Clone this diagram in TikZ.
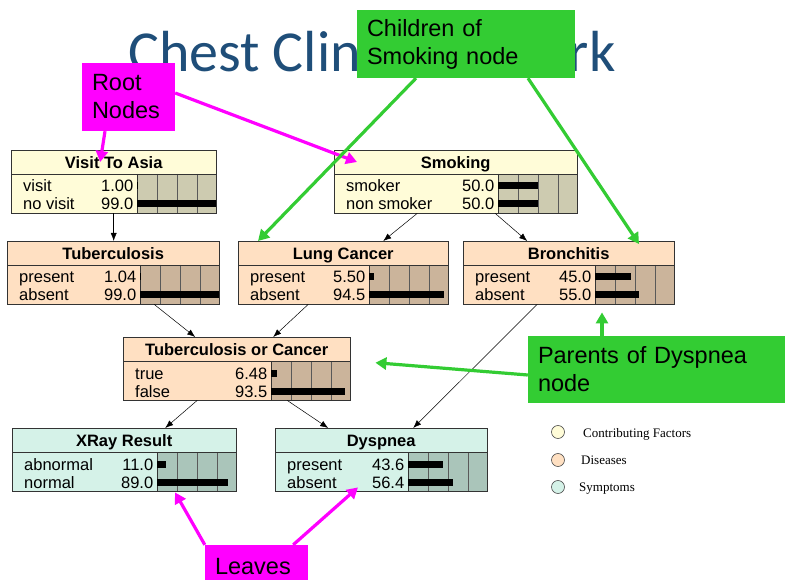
\documentclass[tikz,border=0pt]{standalone}
\usepackage{fontspec}
\setmainfont{Liberation Sans}
\newfontfamily\titlefont{Carlito}
\newfontfamily\legendfont{Liberation Serif}
\usetikzlibrary{arrows.meta,calc}

\definecolor{titleblue}{HTML}{1F4E79}
\definecolor{factorfill}{HTML}{FFFCD8}
\definecolor{factorbar}{HTML}{CDCBB0}
\definecolor{diseasefill}{HTML}{FFE0C2}
\definecolor{diseasebar}{HTML}{CBB49B}
\definecolor{symptomfill}{HTML}{D5F2E8}
\definecolor{symptombar}{HTML}{AAC5BA}
\definecolor{callmag}{HTML}{FF00FF}
\definecolor{callgrn}{HTML}{33CC33}

\tikzset{
  bnbox/.style={inner sep=0pt, minimum height=63pt, anchor=north west},
  bnline/.style={draw=black!80, line width=0.8pt},
  bncell/.style={draw=black!65, line width=0.6pt},
  bntitle/.style={font=\fontsize{16.5}{16.5}\selectfont\bfseries, inner sep=0pt},
  bntext/.style={font=\fontsize{16.5}{16.5}\selectfont, inner sep=0pt},
  bnlink/.style={-{Latex[length=8pt,width=6pt]}, line width=0.5pt},
  callout/.style={inner sep=0pt, align=left, font=\fontsize{23.5}{28}\selectfont},
  magbox/.style={callout, fill=callmag},
  grnbox/.style={callout, fill=callgrn},
  magarrow/.style={-{Triangle[length=11pt,width=12pt]}, line width=3.2pt, draw=callmag, fill=callmag},
  grnarrow/.style={-{Triangle[length=11pt,width=12pt]}, line width=3.2pt, draw=callgrn, fill=callgrn},
  legdot/.style={circle, draw=black!70, line width=0.6pt, minimum size=13pt, inner sep=0pt},
  legtext/.style={font=\legendfont\fontsize{13}{13}\selectfont, inner sep=0pt, anchor=base west}
}

% #1 name, #2 top left, #3 width, #4 title, #5 fill, #6 bar area colour
\newcommand{\bnnode}[6]{%
  \node[bnbox, fill=#5, minimum width=#3pt] (#1) at (#2) {};
  \fill[#6] ([xshift=-79pt, yshift=-24pt]#1.north east) rectangle (#1.south east);
  \foreach \k in {20,40,60}
    \draw[bncell] ([xshift=\k pt-79pt, yshift=-24pt]#1.north east) -- ([xshift=\k pt-79pt]#1.south east);
  \draw[bnline] ([xshift=-79pt, yshift=-24pt]#1.north east) -- ([xshift=-79pt]#1.south east);
  \draw[bnline] ([yshift=-24pt]#1.north west) -- ([yshift=-24pt]#1.north east);
  \node[bntitle, anchor=base] at ([yshift=-18.5pt]#1.north) {#4};
  \draw[bnline] (#1.north west) rectangle (#1.south east);
}
% #1 node, #2 row centre below top, #3 state, #4 value, #5 percent
\newcommand{\bnrow}[5]{%
  \node[bntext, anchor=base west] at ([xshift=12pt, yshift=-#2pt-6pt]#1.north west) {#3};
  \node[bntext, anchor=base east] at ([xshift=-83pt, yshift=-#2pt-6pt]#1.north east) {#4};
  \fill ([xshift=-79pt, yshift=-#2pt+3.5pt]#1.north east) rectangle ++(0.79*#5, 7);
}

\begin{document}
\begin{tikzpicture}[x=1pt,y=-1pt]
  \useasboundingbox (0,0) rectangle (785,580);
  \clip (0,0) rectangle (785,580);

  \node[anchor=base west, inner sep=0pt, text=titleblue, font=\titlefont\fontsize{58}{58}\selectfont] (title) at (128,72) {Chest Clinic Network};

  % network nodes
  \bnnode{visit}{11,150}{205}{Visit To Asia}{factorfill}{factorbar}
  \bnrow{visit}{36}{visit}{1.00}{1.00}
  \bnrow{visit}{54}{no visit}{99.0}{99.0}

  \bnnode{smoking}{334,150}{243}{Smoking}{factorfill}{factorbar}
  \bnrow{smoking}{36}{smoker}{50.0}{50.0}
  \bnrow{smoking}{54}{non smoker}{50.0}{50.0}

  \bnnode{tb}{7,241}{212}{Tuberculosis}{diseasefill}{diseasebar}
  \bnrow{tb}{36}{present}{1.04}{1.04}
  \bnrow{tb}{54}{absent}{99.0}{99.0}

  \bnnode{lung}{238,241}{210}{Lung Cancer}{diseasefill}{diseasebar}
  \bnrow{lung}{36}{present}{5.50}{5.50}
  \bnrow{lung}{54}{absent}{94.5}{94.5}

  \bnnode{bronch}{463,241}{211}{Bronchitis}{diseasefill}{diseasebar}
  \bnrow{bronch}{36}{present}{45.0}{45.0}
  \bnrow{bronch}{54}{absent}{55.0}{55.0}

  \bnnode{torc}{123,337}{227}{Tuberculosis or Cancer}{diseasefill}{diseasebar}
  \bnrow{torc}{36}{true}{6.48}{6.48}
  \bnrow{torc}{54}{false}{93.5}{93.5}

  \bnnode{xray}{12,428}{224}{XRay Result}{symptomfill}{symptombar}
  \bnrow{xray}{36}{abnormal}{11.0}{11.0}
  \bnrow{xray}{54}{normal}{89.0}{89.0}

  \bnnode{dysp}{275,428}{212}{Dyspnea}{symptomfill}{symptombar}
  \bnrow{dysp}{36}{present}{43.6}{43.6}
  \bnrow{dysp}{54}{absent}{56.4}{56.4}

  % links
  \draw[bnlink] (visit.south) -- (visit.south |- tb.north);
  \draw[bnlink] ([xshift=-38.5pt]smoking.south) -- ([xshift=40pt]lung.north);
  \draw[bnlink] ([xshift=39.5pt]smoking.south) -- ([xshift=-41.5pt]bronch.north);
  \draw[bnlink] ([xshift=41pt]tb.south) -- ([xshift=-41.5pt]torc.north);
  \draw[bnlink] ([xshift=-35pt]lung.south) -- ([xshift=36.5pt]torc.north);
  \draw[bnlink] ([xshift=-31.5pt]bronch.south) -- ([xshift=32pt]dysp.north);
  \draw[bnlink] ([xshift=-39.5pt]torc.south) -- ([xshift=41pt]xray.north);
  \draw[bnlink] ([xshift=50.5pt]torc.south) -- ([xshift=-53pt]dysp.north);

  % legend
  \node[legdot, fill=factorfill] (legfac) at (558,432) {};
  \node[legtext] (legfactxt) at (583,437) {Contributing Factors};
  \node[legdot, fill=diseasefill] (legdis) at (558,460) {};
  \node[legtext] (legdistxt) at (581,464) {Diseases};
  \node[legdot, fill=symptomfill] (legsym) at (558,487) {};
  \node[legtext] (legsymtxt) at (579,491) {Symptoms};

  % callouts
  \node[magbox, minimum width=93pt, minimum height=68pt, text width=73pt] (rootlbl) at (128.5,97) {Root\\Nodes};
  \node[grnbox, minimum width=218pt, minimum height=68pt, text width=198pt] (kidslbl) at (466,44) {Children of\\Smoking node};
  \node[grnbox, minimum width=257pt, minimum height=67pt, text width=237pt] (parlbl) at (656.5,369.5) {Parents of Dyspnea\\node};
  \node[magbox, minimum width=103pt, minimum height=43pt, text width=83pt] (leaveslbl) at (256.5,566.5) {Leaves};

  \draw[magarrow] ([xshift=-23.5pt]rootlbl.south) -- ([xshift=-13.5pt, yshift=-12pt]visit.north);
  \draw[magarrow] ([yshift=4pt]rootlbl.east) -- ([xshift=23pt, yshift=-12pt]smoking.north west);
  \draw[grnarrow] ([xshift=-50pt]kidslbl.south) -- ([xshift=20pt]lung.north west);
  \draw[grnarrow] ([xshift=62pt]kidslbl.south) -- ([xshift=176pt, yshift=-3pt]bronch.north west);
  \draw[grnarrow] ([xshift=-54.5pt]parlbl.north) -- ([xshift=139pt, yshift=-8pt]bronch.south west);
  \draw[grnarrow] ([yshift=-5.5pt]parlbl.west) -- ([xshift=25pt, yshift=6pt]torc.east);
  \draw[magarrow] (leaveslbl.north west) -- ([xshift=163pt, yshift=-1pt]xray.south west);
  \draw[magarrow] ([xshift=-15pt]leaveslbl.north east) -- ([xshift=83pt, yshift=4pt]dysp.south west);
\end{tikzpicture}
\end{document}
